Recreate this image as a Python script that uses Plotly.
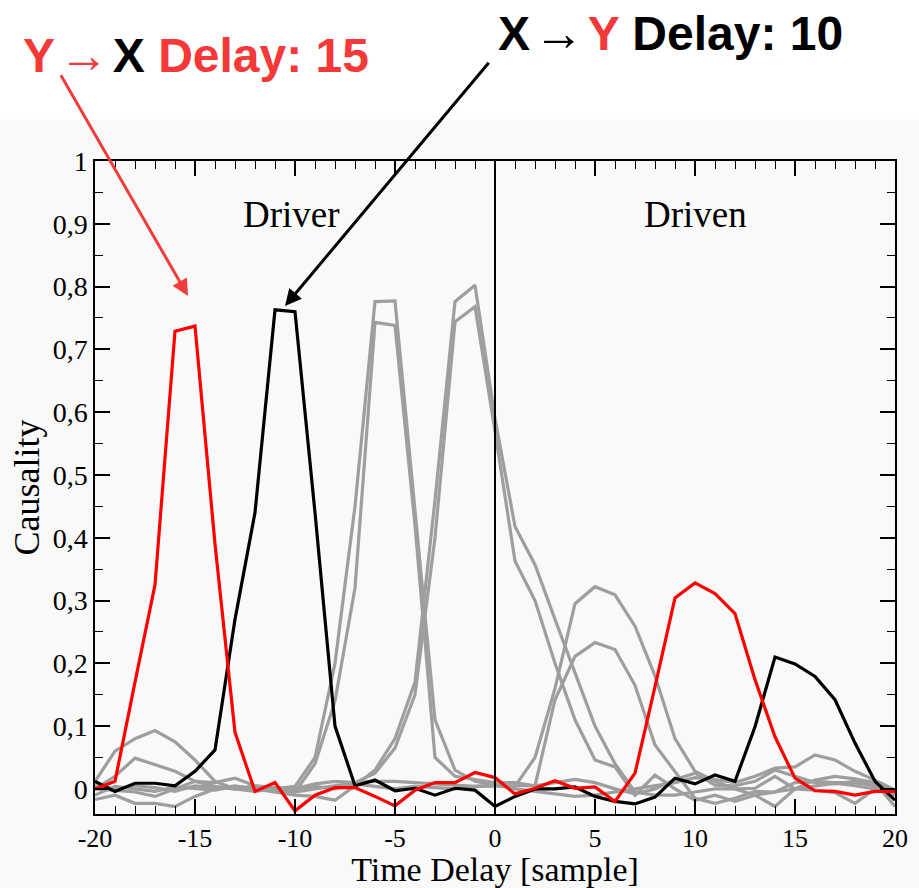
import plotly.graph_objects as go

# time delay in samples
delay = list(range(-20, 21))

# highlighted pairs
y_to_x = [0.0, 0.012, 0.17, 0.325, 0.729, 0.737, 0.39, 0.09, -0.004, 0.01, -0.035,
          -0.01, 0.002, 0.002, -0.012, -0.027, -0.002, 0.01, 0.01, 0.026, 0.018,
          -0.008, 0.001, 0.013, 0.001, 0.003, -0.02, 0.025, 0.163, 0.304, 0.328,
          0.311, 0.279, 0.174, 0.083, 0.017, -0.003, -0.004, -0.01, -0.004, -0.004]
x_to_y = [0.012, -0.004, 0.009, 0.009, 0.005, 0.028, 0.062, 0.27, 0.44, 0.763, 0.76,
          0.44, 0.10, 0.005, 0.014, -0.003, 0.001, -0.01, 0.001, -0.002, -0.028,
          -0.012, 0.0, 0.0, 0.003, -0.012, -0.02, -0.024, -0.013, 0.017, 0.008,
          0.022, 0.012, 0.099, 0.21, 0.199, 0.179, 0.142, 0.073, 0.012, -0.018]

# other pairs (grey)
other_1 = [0.012, 0.06, 0.08, 0.093, 0.075, 0.046, 0.012, 0.0, -0.004, 0.0, 0.004,
           0.05, 0.2, 0.45, 0.776, 0.777, 0.45, 0.11, 0.03, 0.012, 0.006,
           0.0, -0.004, -0.008, -0.012, -0.01, -0.005, 0.0, 0.004, 0.01, 0.018,
           0.015, 0.01, 0.02, 0.033, 0.035, 0.054, 0.046, 0.028, 0.014, -0.002]
other_2 = [0.0, 0.02, 0.049, 0.038, 0.028, 0.012, 0.004, 0.0, 0.002, -0.003, -0.005,
           0.04, 0.14, 0.32, 0.743, 0.738, 0.42, 0.05, 0.02, 0.015, 0.01,
           0.01, 0.005, 0.01, 0.015, 0.01, 0.0, -0.008, 0.0, 0.015, 0.025,
           0.006, 0.005, 0.012, 0.03, 0.02, 0.01, 0.008, 0.012, 0.01, -0.005]
other_3 = [-0.017, -0.01, -0.023, -0.023, -0.028, -0.012, 0.0, 0.005, 0.0, -0.005, -0.01,
           -0.012, -0.018, 0.005, 0.03, 0.08, 0.17, 0.46, 0.776, 0.802, 0.59,
           0.418, 0.357, 0.27, 0.185, 0.1, 0.04, -0.005, -0.01, -0.01, -0.005,
           0.0, 0.0, 0.001, 0.02, 0.0, 0.014, 0.02, 0.016, 0.01, -0.028]
other_4 = [0.0, -0.002, -0.005, -0.012, 0.0, 0.012, 0.01, 0.017, 0.005, 0.0, -0.005,
           0.0, 0.005, 0.01, 0.025, 0.065, 0.15, 0.40, 0.744, 0.768, 0.57,
           0.363, 0.30, 0.2, 0.11, 0.046, 0.035, -0.01, 0.022, 0.0, -0.018,
           -0.01, -0.02, -0.01, -0.028, 0.0, -0.002, -0.006, -0.023, 0.0, -0.005]
other_5 = [0.005, 0.0, 0.005, 0.002, -0.004, 0.005, 0.002, 0.0, 0.005, 0.003, 0.0,
           0.008, 0.012, 0.01, 0.012, 0.012, 0.01, 0.008, 0.005, 0.004, 0.006,
           0.004, 0.05, 0.16, 0.295, 0.322, 0.309, 0.259, 0.18, 0.08, 0.028,
           0.012, 0.0, -0.01, -0.005, 0.01, 0.012, 0.01, 0.01, 0.005, -0.005]
other_6 = [-0.01, 0.004, 0.0, -0.004, 0.003, 0.0, -0.002, 0.004, 0.0, -0.004, 0.0,
           0.004, 0.0, 0.008, 0.004, 0.0, 0.004, 0.002, 0.0, 0.004, 0.005,
           0.005, 0.005, 0.142, 0.211, 0.233, 0.222, 0.165, 0.07, 0.028, -0.015,
           -0.023, -0.015, -0.004, -0.005, 0.0, 0.005, 0.009, 0.005, 0.0, -0.01]

x_ticks = [-20, -15, -10, -5, 0, 5, 10, 15, 20]
x_ticktext = ["-20", "-15", "-10", "-5", "0", "5", "10", "15", "20"]

SERIF = "Liberation Serif, Times New Roman, serif"
SANS = "Liberation Sans, Arial, sans-serif"
RED_TXT = "#f53838"

W, H = 919, 888
M = dict(l=95, r=24, t=161, b=74)

fig = go.Figure()
for series in [other_1, other_2, other_3, other_4, other_5, other_6]:
    fig.add_trace(go.Scatter(x=delay, y=series, mode="lines",
                             line=dict(color="#9e9e9e", width=3.2), showlegend=False))
fig.add_trace(go.Scatter(x=delay, y=x_to_y, mode="lines",
                         line=dict(color="black", width=3.2), showlegend=False))
fig.add_trace(go.Scatter(x=delay, y=y_to_x, mode="lines",
                         line=dict(color="#ff0000", width=3.2), showlegend=False))

# zero delay divider
fig.add_shape(type="line", xref="x", yref="paper", x0=0, x1=0, y0=0, y1=1,
              line=dict(color="black", width=2))
# faint grey backdrop below the headline area
fig.add_shape(type="rect", xref="paper", yref="paper", x0=-0.2, x1=1.2, y0=-0.2, y1=1.063,
              fillcolor="#f9f9f9", line=dict(width=0), layer="below")

axis_common = dict(ticks="inside", tickcolor="black", tickwidth=1.5, showline=True,
                   linecolor="black", linewidth=1.5, mirror="ticks", showgrid=False,
                   zeroline=False, automargin=False)


def head(px, py, text):
    # headline placed by pixel position from the top-left corner of the figure
    return dict(x=(px - M["l"]) / (W - M["l"] - M["r"]),
                y=(H - M["b"] - py) / (H - M["t"] - M["b"]),
                xref="paper", yref="paper", xanchor="left", yanchor="middle",
                text=text, showarrow=False, font=dict(family=SANS, size=48, color="black"))


arrow = "<span style='font-size:50px'>→</span>"
gap = "<span style='font-size:14px'> </span>"

fig.update_layout(
    width=W, height=H,
    margin=M,
    paper_bgcolor="white",
    plot_bgcolor="rgba(0,0,0,0)",
    separators=", ",
    xaxis=dict(range=[-20, 20], tickvals=x_ticks, ticktext=x_ticktext, ticklen=15,
               tickfont=dict(family=SERIF, size=26, color="black"),
               minor=dict(dtick=1, ticks="inside", ticklen=8, tickcolor="black", tickwidth=1.2),
               title=dict(text="Time Delay [sample]", standoff=0,
                          font=dict(family=SERIF, size=34, color="black")),
               **axis_common),
    yaxis=dict(range=[-0.04, 1.0], dtick=0.1, tick0=0, ticklen=15,
               tickfont=dict(family=SERIF, size=28, color="black"),
               minor=dict(dtick=0.05, ticks="inside", ticklen=8, tickcolor="black", tickwidth=1.2),
               title=dict(text="Causality", standoff=2,
                          font=dict(family=SERIF, size=36, color="black")),
               **axis_common),
    annotations=[
        dict(x=-10.2, y=0.915, xref="x", yref="y", text="Driver", showarrow=False,
             font=dict(family=SERIF, size=37, color="black")),
        dict(x=10, y=0.915, xref="x", yref="y", text="Driven", showarrow=False,
             font=dict(family=SERIF, size=37, color="black")),
        head(21, 55, f"<b><span style='color:{RED_TXT}'>Y</span></b>{gap}"
                     f"<span style='color:{RED_TXT}'>{arrow}</span>{gap}"
                     f"<b>X </b><b><span style='color:{RED_TXT}'>Delay: 15</span></b>"),
        head(496, 33, f"<b>X</b>{gap}{arrow}{gap}"
                      f"<b><span style='color:{RED_TXT}'>Y</span> Delay: 10</b>"),
        # pointer arrows
        dict(x=-15.35, y=0.785, xref="x", yref="y", ax=-21.75, ay=1.139, axref="x", ayref="y",
             text="", showarrow=True, arrowhead=2, arrowsize=1.1, arrowwidth=3,
             arrowcolor="#f03c3c", standoff=0, startstandoff=0),
        dict(x=-10.5, y=0.769, xref="x", yref="y", ax=-0.25, ay=1.159, axref="x", ayref="y",
             text="", showarrow=True, arrowhead=2, arrowsize=1.1, arrowwidth=3,
             arrowcolor="black", standoff=0, startstandoff=0),
    ],
)

fig.write_html("out.html", config={"displayModeBar": False},
               post_script="document.body.style.margin='0px';")
